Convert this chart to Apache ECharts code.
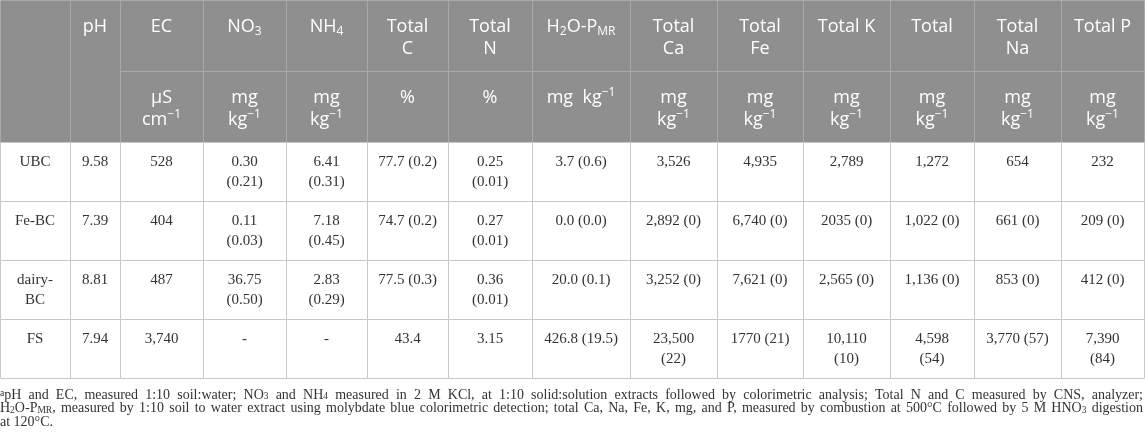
<!DOCTYPE html>
<html>
<head>
<meta charset="utf-8">
<script src="https://cdn.jsdelivr.net/npm/echarts@6/dist/echarts.min.js"></script>
<style>
  html, body { margin: 0; padding: 0; background: #fff; }
  #main { width: 1145px; height: 441px; }
</style>
</head>
<body>
<div id="main"></div>
<script>
// table content
var headNames = ['', 'pH', 'EC', 'NO{sub|3}', 'NH{sub|4}', 'Total\nC', 'Total\nN',
  'H{sub|2}O-P{sub|MR}', 'Total\nCa', 'Total\nFe', 'Total K', 'Total', 'Total\nNa', 'Total P'];
var headUnits = [null, null, 'µS\ncm{sup|−1}', 'mg\nkg{sup|−1}', 'mg\nkg{sup|−1}', '%', '%',
  'mg  kg{sup|−1}', 'mg\nkg{sup|−1}', 'mg\nkg{sup|−1}', 'mg\nkg{sup|−1}', 'mg\nkg{sup|−1}',
  'mg\nkg{sup|−1}', 'mg\nkg{sup|−1}'];
var samples = ['UBC', 'Fe-BC', 'dairy-\nBC', 'FS'];
var ubcValues = ['9.58', '528', '0.30\n(0.21)', '6.41\n(0.31)', '77.7 (0.2)', '0.25\n(0.01)',
  '3.7 (0.6)', '3,526', '4,935', '2,789', '1,272', '654', '232'];
var feBcValues = ['7.39', '404', '0.11\n(0.03)', '7.18\n(0.45)', '74.7 (0.2)', '0.27\n(0.01)',
  '0.0 (0.0)', '2,892 (0)', '6,740 (0)', '2035 (0)', '1,022 (0)', '661 (0)', '209 (0)'];
var dairyBcValues = ['8.81', '487', '36.75\n(0.50)', '2.83\n(0.29)', '77.5 (0.3)', '0.36\n(0.01)',
  '20.0 (0.1)', '3,252 (0)', '7,621 (0)', '2,565 (0)', '1,136 (0)', '853 (0)', '412 (0)'];
var fsValues = ['7.94', '3,740', '-', '-', '43.4', '3.15', '426.8 (19.5)', '23,500\n(22)',
  '1770 (21)', '10,110\n(10)', '4,598\n(54)', '3,770 (57)', '7,390\n(84)'];
var footnoteLines = [
  '{sup|a}pH and EC, measured 1:10 soil:water; NO{sub|3} and NH{sub|4} measured in 2 M KCl, at 1:10 solid:solution extracts followed by colorimetric analysis; Total N and C measured by CNS, analyzer;',
  'H{sub|2}O-P{sub|MR}, measured by 1:10 soil to water extract using molybdate blue colorimetric detection; total Ca, Na, Fe, K, mg, and P, measured by combustion at 500°C followed by 5 M HNO{sub|3} digestion',
  'at 120°C.'
];

// layout (column widths / row heights in px)
var colWidths = [70, 50, 83, 83, 81, 81, 84, 99, 87, 86, 87, 84, 87, 83];
var rowHeights = [71, 71, 59, 59, 59, 59];

var colEdges = [0];
colWidths.forEach(function (w, i) { colEdges.push(colEdges[i] + w); });
var rowEdges = [0];
rowHeights.forEach(function (h, i) { rowEdges.push(rowEdges[i] + h); });
var tableW = colEdges[colEdges.length - 1];
var tableH = rowEdges[rowEdges.length - 1];

// build cells: [col, row, rowSpan], kind, text
var cells = [];
headNames.forEach(function (t, c) {
  var span = headUnits[c] === null ? 2 : 1;
  cells.push({ value: [c, 0, span], kind: 'head', text: t });
  if (span === 1) cells.push({ value: [c, 1, 1], kind: 'head', text: headUnits[c] });
});
var bodyRows = [ubcValues, feBcValues, dairyBcValues, fsValues];
bodyRows.forEach(function (vals, r) {
  cells.push({ value: [0, r + 2, 1], kind: 'body', text: samples[r] });
  vals.forEach(function (v, c) {
    cells.push({ value: [c + 1, r + 2, 1], kind: 'body', text: v });
  });
});

var headRich = {
  sub: { fontSize: 12, lineHeight: 12, verticalAlign: 'bottom', fontFamily: 'Open Sans', color: '#fff' },
  sup: { fontSize: 12, lineHeight: 16, verticalAlign: 'top', fontFamily: 'Open Sans', color: '#fff' }
};

// footnote: justified lines, one text per word
var noteFont = 'Liberation Serif', noteSize = 14, noteSmall = 9.5;
var noteRich = {
  sub: { fontSize: noteSmall, lineHeight: 8, verticalAlign: 'bottom', fontFamily: noteFont, color: '#333' },
  sup: { fontSize: noteSmall, lineHeight: 4, verticalAlign: 'top', fontFamily: noteFont, color: '#333' }
};
var ctx = document.createElement('canvas').getContext('2d');
function wordWidth(word) {
  var w = 0, last = 0, m, re = /\{(sub|sup)\|([^}]*)\}/g;
  ctx.font = noteSize + 'px "' + noteFont + '"';
  while ((m = re.exec(word)) !== null) {
    w += ctx.measureText(word.slice(last, m.index)).width;
    ctx.font = noteSmall + 'px "' + noteFont + '"';
    w += ctx.measureText(m[2]).width;
    ctx.font = noteSize + 'px "' + noteFont + '"';
    last = re.lastIndex;
  }
  w += ctx.measureText(word.slice(last)).width;
  return w;
}
var noteGraphics = [];
var noteTop = 395, noteLineH = 13.5, noteRight = 1143;
footnoteLines.forEach(function (line, li) {
  var words = line.split(' ').filter(function (s) { return s.length; });
  var widths = words.map(wordWidth);
  var total = widths.reduce(function (s, v) { return s + v; }, 0);
  ctx.font = noteSize + 'px "' + noteFont + '"';
  var gap = ctx.measureText(' ').width;
  if (li < footnoteLines.length - 1 && words.length > 1) {
    gap = (noteRight - total) / (words.length - 1);
  }
  var x = 0;
  words.forEach(function (w, wi) {
    noteGraphics.push({
      type: 'text',
      x: x,
      y: noteTop + li * noteLineH,
      style: {
        text: w,
        rich: noteRich,
        fill: '#333',
        fontFamily: noteFont,
        fontSize: noteSize,
        lineHeight: noteLineH,
        verticalAlign: 'middle'
      }
    });
    x += widths[wi] + gap;
  });
});

var myChart = echarts.init(document.getElementById('main'));

option = {
  backgroundColor: '#fff',
  animation: false,
  graphic: noteGraphics,
  grid: { left: 0, top: 0, width: tableW - 1, height: tableH },
  xAxis: { type: 'value', min: 0, max: tableW, show: false },
  yAxis: { type: 'value', min: 0, max: tableH, inverse: true, show: false },
  series: [{
    type: 'custom',
    coordinateSystem: 'cartesian2d',
    encode: { x: 0, y: 1 },
    data: cells,
    renderItem: function (params, api) {
      var cell = cells[params.dataIndex];
      var c = api.value(0), r = api.value(1), span = api.value(2);
      var a = api.coord([colEdges[c], rowEdges[r]]);
      var b = api.coord([colEdges[c + 1], rowEdges[r + span]]);
      var x0 = Math.round(a[0]), y0 = Math.round(a[1]);
      var x1 = Math.round(b[0]), y1 = Math.round(b[1]);
      var isHead = cell.kind === 'head';
      var cx = (x0 + x1) / 2;
      var textEl;
      if (isHead) {
        textEl = {
          type: 'text',
          style: {
            x: cx, y: y0 + 16,
            text: cell.text,
            rich: headRich,
            fill: '#fff',
            fontFamily: 'Open Sans',
            fontSize: 18,
            lineHeight: 22,
            align: 'center',
            verticalAlign: 'top'
          }
        };
      } else {
        textEl = {
          type: 'text',
          style: {
            x: cx, y: y0 + 10,
            text: cell.text,
            fill: '#333',
            fontFamily: 'Liberation Serif',
            fontSize: 15,
            lineHeight: 20,
            align: 'center',
            verticalAlign: 'top'
          }
        };
      }
      return {
        type: 'group',
        children: [{
          type: 'rect',
          shape: { x: x0 + 0.5, y: y0 + 0.5, width: x1 - x0, height: y1 - y0 },
          style: {
            fill: isHead ? '#8f8f8f' : '#fff',
            stroke: isHead ? '#a9a9a9' : '#c8c8c8',
            lineWidth: 1
          }
        }, textEl]
      };
    }
  }]
};

myChart.setOption(option);
</script>
</body>
</html>
